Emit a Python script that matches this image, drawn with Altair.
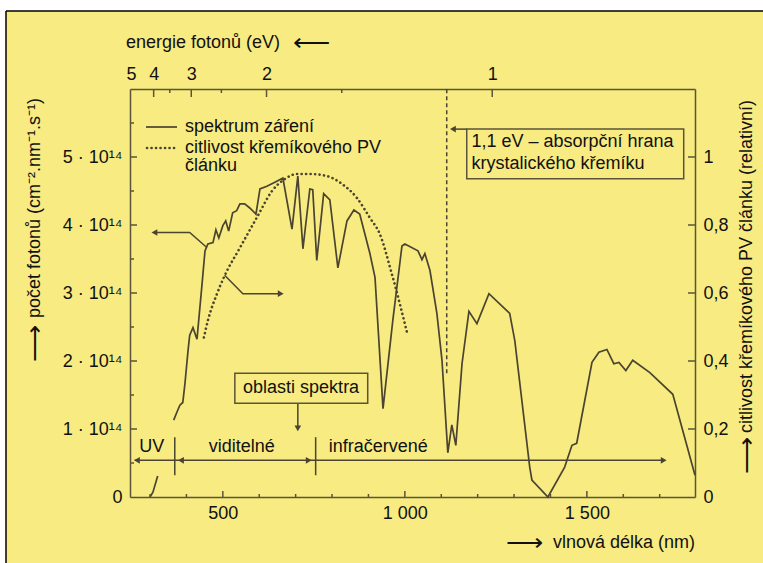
import altair as alt
import pandas as pd

BG = "#F7EB82"
INK = "#4a4431"
AX = "#5c543a"
TXT = "#111111"
FONT = "Liberation Sans"
FS = 18

# ---------------- data ----------------
# solar photon spectrum (wavelength nm, photons in units of 1e14 cm^-2 nm^-1 s^-1)
spec_nm = [300, 308, 321, 365, 374, 382, 390, 396, 404, 409, 418, 429, 442, 451, 459, 473, 481, 489,
           500, 508, 516, 527, 538, 547, 560, 574, 591, 602, 621, 643, 665, 690, 706, 720, 739, 747,
           758, 777, 794, 816, 841, 860, 876, 904, 918, 940, 967, 992, 1000, 1036, 1047, 1055, 1069,
           1088, 1102, 1118, 1129, 1140, 1157, 1176, 1198, 1231, 1288, 1302, 1343, 1349, 1393, 1439,
           1459, 1472, 1514, 1533, 1555, 1574, 1588, 1607, 1626, 1673, 1736, 1797]
spec_val = [0, 0.07, 0.31, 1.13, 1.25, 1.35, 1.39, 1.67, 2.13, 2.38, 2.49, 2.32, 3.08, 3.62, 3.72, 3.74,
            3.93, 3.81, 3.99, 4.06, 3.91, 4.18, 4.21, 4.31, 4.31, 4.25, 4.16, 4.53, 4.57, 4.63, 4.69,
            3.94, 4.72, 3.65, 4.53, 4.52, 3.48, 4.46, 4.37, 3.37, 4.06, 4.22, 4.16, 3.58, 3.23, 1.30,
            2.60, 3.69, 3.72, 3.62, 3.49, 3.58, 3.33, 2.70, 2.01, 0.65, 1.06, 0.76, 1.96, 2.73, 2.55,
            2.99, 2.70, 2.30, 0.44, 0.25, 0, 0.44, 0.76, 0.79, 1.98, 2.13, 2.17, 1.96, 1.98, 1.86,
            2.01, 1.83, 1.51, 0.32]
spec_seg = [0, 0, 0] + [1] * (len(spec_nm) - 3)

# relative sensitivity of a crystalline silicon PV cell
sens_nm = [448, 459, 484, 505, 547, 596, 635, 670, 703, 739, 786, 827, 868, 904, 931, 964, 1008]
sens_rel = [0.469, 0.519, 0.598, 0.651, 0.733, 0.827, 0.900, 0.935, 0.950, 0.950, 0.944, 0.921,
            0.880, 0.821, 0.774, 0.657, 0.475]

# axes
x_major = [500, 1000, 1500]
x_minor = [300, 400, 600, 700, 800, 900, 1100, 1200, 1300, 1400, 1600, 1700]
y_major = [0, 1, 2, 3, 4, 5]
y_minor = [0.5, 1.5, 2.5, 3.5, 4.5, 5.5]
rel_major = [0, 0.2, 0.4, 0.6, 0.8, 1]
ev_major = [5, 4, 3, 2, 1]
ev_minor = [3.5, 2.5, 1.5]

# annotations (data coordinates: nm, photons 1e14)
edge_nm = 1115
edge_v = [1.82, 6.0]
ptr_id = [1, 1, 1, 2, 2, 2, 3, 3, 4, 4, 5, 5]
ptr_ord = [0, 1, 2, 0, 1, 2, 0, 1, 0, 1, 0, 1]
ptr_nm = [456, 409, 312, 505, 555, 659, 1132, 1170, 706, 706, 258, 1711]
ptr_v = [3.67, 3.89, 3.89, 3.26, 2.99, 2.99, 5.41, 5.41, 1.38, 1.01, 0.54, 0.54]
head_nm = [312, 659, 1132, 706, 264, 385, 736, 1711]
head_v = [3.89, 2.99, 5.41, 1.01, 0.54, 0.54, 0.54, 0.54]
head_shape = ["triangle-left", "triangle-right", "triangle-left", "triangle-down",
              "triangle-left", "triangle-left", "triangle-right", "triangle-right"]
div_nm = [368, 755]
div_v = [0.32, 0.88]
box_nm1 = [1170, 533]
box_nm2 = [1766, 898]
box_v1 = [4.68, 1.38]
box_v2 = [5.41, 1.82]
lab_text = ["1,1 eV – absorpční hrana", "krystalického křemíku", "UV", "viditelné", "infračervené"]
lab_nm = [1183, 1183, 305, 552, 791]
lab_v = [5.22, 4.90, 0.74, 0.74, 0.74]
lab_align = ["left", "left", "center", "center", "left"]
box2_text = ["oblasti spektra"]
box2_nm = [715]
box2_v = [1.60]

# ---------------- frames ----------------
spec = pd.DataFrame({"nm": spec_nm, "v": spec_val, "seg": spec_seg})
sens = pd.DataFrame({"nm": sens_nm, "rel": sens_rel})
ptr = pd.DataFrame({"id": ptr_id, "o": ptr_ord, "nm": ptr_nm, "v": ptr_v})
heads = pd.DataFrame({"nm": head_nm, "v": head_v, "shape": head_shape})
divs = pd.DataFrame({"nm": div_nm, "v1": [div_v[0]] * 2, "v2": [div_v[1]] * 2})
boxes = pd.DataFrame({"a": box_nm1, "b": box_nm2, "c": box_v1, "d": box_v2})
labs = pd.DataFrame({"t": lab_text, "nm": lab_nm, "v": lab_v, "al": lab_align})

W, H = 565, 408
xs = alt.Scale(domain=[245, 1797], nice=False, zero=False)
ys = alt.Scale(domain=[0, 6], nice=False, zero=True)


def X(f="nm", axis=None):
    return alt.X(f"{f}:Q", scale=xs, axis=axis, title=None)


def Y(f="v", axis=None):
    return alt.Y(f"{f}:Q", scale=ys, axis=axis, title=None)


ax_common = dict(domainColor=AX, domainWidth=1.5, ticks=False, grid=False,
                 labelFont=FONT, labelFontSize=FS, labelColor=TXT)

bottom_axis = alt.Axis(orient="bottom", values=x_major, labelPadding=7,
                       labelExpr="datum.value < 1000 ? '' + datum.value : replace(format(datum.value, ','), ',', ' ')",
                       **ax_common)
left_axis = alt.Axis(orient="left", values=y_major, labelPadding=8,
                     labelExpr="datum.value == 0 ? '0' : datum.value + ' · 10¹⁴'", **ax_common)
right_axis = alt.Axis(orient="right", values=[r * 5 for r in rel_major], labelPadding=8,
                      labelExpr="datum.value == 0 ? '0' : datum.value == 5 ? '1' : replace(format(datum.value/5, '.1f'), '.', ',')",
                      **ax_common)
top_axis = alt.Axis(orient="top", values=[1240 / e for e in ev_major], labelPadding=6,
                    labelExpr="format(1240/datum.value, 'd')", **ax_common)

spec_line = alt.Chart(spec).mark_line(color=INK, strokeWidth=1.7).encode(
    x=X(axis=bottom_axis), y=Y(axis=left_axis), detail="seg:N", order="nm:Q")

sens_line = alt.Chart(sens).transform_calculate(v="datum.rel * 5").mark_line(
    color=INK, strokeWidth=2.6, strokeDash=[0.1, 4.4], strokeCap="round", interpolate="monotone"
).encode(x=X(), y=Y(axis=right_axis))

top_major = alt.Chart(pd.DataFrame({"eV": ev_major[1:]})).transform_calculate(
    nm="1240 / datum.eV").mark_rule(color=AX, strokeWidth=1.5).encode(
    x=X(axis=top_axis), y=alt.value(0), y2=alt.value(8))
top_minor = alt.Chart(pd.DataFrame({"eV": ev_minor})).transform_calculate(
    nm="1240 / datum.eV").mark_rule(color=AX, strokeWidth=1.5).encode(
    x=X(), y=alt.value(0), y2=alt.value(4))

bot_major = alt.Chart(pd.DataFrame({"nm": x_major})).mark_rule(color=AX, strokeWidth=1.5).encode(
    x=X(), y=alt.value(H), y2=alt.value(H - 6))
bot_minor = alt.Chart(pd.DataFrame({"nm": x_minor})).mark_rule(color=AX, strokeWidth=1.5).encode(
    x=X(), y=alt.value(H), y2=alt.value(H - 3))
left_major = alt.Chart(pd.DataFrame({"v": y_major[1:]})).mark_rule(color=AX, strokeWidth=1.5).encode(
    y=Y(), x=alt.value(0), x2=alt.value(7))
left_minor = alt.Chart(pd.DataFrame({"v": y_minor})).mark_rule(color=AX, strokeWidth=1.5).encode(
    y=Y(), x=alt.value(0), x2=alt.value(4))
right_major = alt.Chart(pd.DataFrame({"rel": rel_major[1:]})).transform_calculate(
    v="datum.rel * 5").mark_rule(color=AX, strokeWidth=1.5).encode(
    y=Y(), x=alt.value(W - 7), x2=alt.value(W))

edge = alt.Chart(pd.DataFrame({"nm": [edge_nm], "v1": [edge_v[0]], "v2": [edge_v[1]]})).mark_rule(
    color=INK, strokeWidth=1.5, strokeDash=[4, 3]).encode(x=X(), y=Y("v1"), y2="v2:Q")

pointers = alt.Chart(ptr).mark_line(color=INK, strokeWidth=1.5).encode(
    x=X(), y=Y(), detail="id:N", order="o:Q")
arrowheads = alt.Chart(heads).mark_point(filled=True, color=INK, size=45, opacity=1).encode(
    x=X(), y=Y(), shape=alt.Shape("shape:N", scale=None))
dividers = alt.Chart(divs).mark_rule(color=INK, strokeWidth=1.5).encode(x=X(), y=Y("v1"), y2="v2:Q")
box_rects = alt.Chart(boxes).mark_rect(fill=BG, stroke=AX, strokeWidth=1.5).encode(
    x=X("a"), x2="b:Q", y=Y("c"), y2="d:Q")

lab_left = alt.Chart(labs[labs.al == "left"]).mark_text(
    font=FONT, fontSize=FS, color=TXT, baseline="middle", align="left").encode(x=X(), y=Y(), text="t:N")
lab_center = alt.Chart(labs[labs.al == "center"]).mark_text(
    font=FONT, fontSize=FS, color=TXT, baseline="middle", align="center").encode(x=X(), y=Y(), text="t:N")
box2_lab = alt.Chart(pd.DataFrame({"t": box2_text, "nm": box2_nm, "v": box2_v})).mark_text(
    font=FONT, fontSize=FS, color=TXT, baseline="middle", align="center").encode(x=X(), y=Y(), text="t:N")

# legend (pixel positions inside the plot area)
leg_solid = alt.Chart().mark_rule(color=INK, strokeWidth=1.7).encode(
    x=alt.value(16), x2=alt.value(47), y=alt.value(38))
leg_dot = alt.Chart().mark_rule(color=INK, strokeWidth=2.6, strokeDash=[0.1, 4.4], strokeCap="round").encode(
    x=alt.value(17), x2=alt.value(48), y=alt.value(59))


def ptext(t, x, y, align="left", angle=0, size=FS):
    return alt.Chart().mark_text(font=FONT, fontSize=size, color=TXT, align=align,
                                 baseline="middle", angle=angle).encode(
        x=alt.value(x), y=alt.value(y), text=alt.value(t))


leg_t1 = ptext("spektrum záření", 55, 38)
leg_t2 = ptext("citlivost křemíkového PV", 55, 59)
leg_t3 = ptext("článku", 55, 77)

top_title = ptext("energie fotonů (eV)", -4, -46)
top_arrow = ptext("⟵", 163, -46, size=26)
left_title = ptext("počet fotonů (cm⁻².nm⁻¹.s⁻¹)", -95, 229, angle=270)
left_arrow = ptext("⟶", -95, 273, angle=270, size=26)
right_title = ptext("citlivost křemíkového PV článku (relativní)", 617, 344, angle=270)
right_arrow = ptext("⟶", 617, 385, angle=270, size=26)
bot_title = ptext("vlnová délka (nm)", W, 454, align="right")
bot_arrow = ptext("⟶", 413, 454, align="right", size=26)

# outer frame (white strip + black border at top/left)
frame_top = alt.Chart().mark_rect(color="white").encode(
    x=alt.value(-130), x2=alt.value(W + 68), y=alt.value(-89), y2=alt.value(-78))
frame_left = alt.Chart().mark_rect(color="white").encode(
    x=alt.value(-130), x2=alt.value(-124), y=alt.value(-89), y2=alt.value(H + 66))
border_top = alt.Chart().mark_rule(color="black", strokeWidth=1.5).encode(
    x=alt.value(-124), x2=alt.value(W + 68), y=alt.value(-78))
border_left = alt.Chart().mark_rule(color="black", strokeWidth=1.5).encode(
    x=alt.value(-124), y=alt.value(-78), y2=alt.value(H + 66))

chart = alt.layer(
    frame_top, frame_left, border_top, border_left,
    spec_line, sens_line, top_major, top_minor, bot_major, bot_minor,
    left_major, left_minor, right_major, edge, pointers, dividers, box_rects,
    arrowheads, lab_left, lab_center, box2_lab,
    leg_solid, leg_dot, leg_t1, leg_t2, leg_t3,
    top_title, top_arrow, left_title, left_arrow, right_title, right_arrow, bot_title, bot_arrow,
    data=pd.DataFrame({"d": [0]}),
).resolve_axis(x="independent", y="independent").properties(
    width=W, height=H, autosize="none",
    padding={"left": 130, "top": 89, "right": 68, "bottom": 66},
    background=BG,
).configure_view(stroke=None)

chart.save("out.html", embed_options={"renderer": "svg", "actions": False})
